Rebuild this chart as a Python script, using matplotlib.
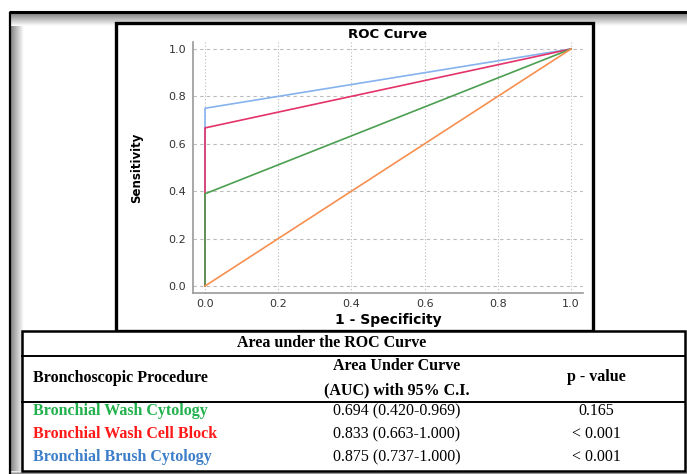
"""ROC 曲線と AUC 表の再現"""
import matplotlib
matplotlib.use("Agg")
import matplotlib.pyplot as plt
import numpy as np

# ROC 曲線データ (1 - 特異度, 感度)
wash_cyto_fpr = [0.0, 0.0, 1.0]
wash_cyto_tpr = [0.0, 0.389, 1.0]
cell_block_fpr = [0.0, 0.0, 1.0]
cell_block_tpr = [0.0, 0.667, 1.0]
brush_cyto_fpr = [0.0, 0.0, 1.0]
brush_cyto_tpr = [0.0, 0.75, 1.0]
ref_fpr = [0.0, 1.0]
ref_tpr = [0.0, 1.0]

ticks = [0.0, 0.2, 0.4, 0.6, 0.8, 1.0]

# AUC 表
procedures = ["Bronchial Wash Cytology", "Bronchial Wash Cell Block", "Bronchial Brush Cytology"]
auc_text = ["0.694 (0.420-0.969)", "0.833 (0.663-1.000)", "0.875 (0.737-1.000)"]
p_values = ["0.165", "< 0.001", "< 0.001"]
row_colors = ["#22b14c", "#ff1a1a", "#3d7ec8"]

W, H = 687, 474
fig = plt.figure(figsize=(W / 100, H / 100), dpi=100)

# 背景レイヤー (ピクセル座標)
ov = fig.add_axes([0, 0, 1, 1])

# 外枠の影
grad = np.linspace(0.5, 1.0, 32)
ov.imshow(np.tile(grad, (2, 1)), cmap="gray", vmin=0, vmax=1, aspect="auto",
          extent=(10, 24, 471, 13), interpolation="bilinear", zorder=0)
ov.imshow(np.tile(grad[:, None], (1, 2)), cmap="gray", vmin=0, vmax=1, aspect="auto",
          extent=(10, W, 26, 13), interpolation="bilinear", zorder=0)
ov.imshow(np.tile(grad[::-1][:, None], (1, 2)), cmap="gray", vmin=0, vmax=1, aspect="auto",
          extent=(10, W, H, 471), interpolation="bilinear", zorder=0)
ov.set_xlim(0, W)
ov.set_ylim(H, 0)
ov.axis("off")
ov.plot([9, W], [12, 12], color="black", lw=2.2, solid_capstyle="butt")
ov.plot([9.5, 9.5], [12, H], color="black", lw=1.6, solid_capstyle="butt")

# チャート枠
ov.add_patch(plt.Rectangle((116, 23), 477, 308, fc="white", ec="black", lw=2.4, zorder=3))

# 表
ov.add_patch(plt.Rectangle((22, 331), 663, 140, fc="white", ec="black", lw=1.8, zorder=3))
ov.plot([22, 685], [356, 356], color="black", lw=1.4, zorder=4)
ov.plot([22, 685], [402, 402], color="black", lw=1.4, zorder=4)

serif = ["Liberation Serif", "DejaVu Serif"]
fs = 11.5
ov.text(332, 343, "Area under the ROC Curve", ha="center", va="center",
        family=serif, weight="bold", fontsize=fs, zorder=5)
ov.text(33, 378, "Bronchoscopic Procedure", ha="left", va="center",
        family=serif, weight="bold", fontsize=fs, zorder=5)
ov.text(397, 366, "Area Under Curve", ha="center", va="center",
        family=serif, weight="bold", fontsize=fs, zorder=5)
ov.text(397, 390, "(AUC) with 95% C.I.", ha="center", va="center",
        family=serif, weight="bold", fontsize=fs, zorder=5)
ov.text(596, 377, "p - value", ha="center", va="center",
        family=serif, weight="bold", fontsize=fs, zorder=5)

row_y = [411, 434, 457]
for name, auc, p, c, y in zip(procedures, auc_text, p_values, row_colors, row_y):
    ov.text(33, y, name, ha="left", va="center", family=serif, weight="bold",
            fontsize=fs, color=c, zorder=5)
    ov.text(397, y, auc, ha="center", va="center", family=serif, fontsize=fs, zorder=5)
    ov.text(596, y, p, ha="center", va="center", family=serif, fontsize=fs, zorder=5)

# ROC プロット
ax = fig.add_axes([193 / W, (H - 293) / H, 390 / W, 251 / H])
ax.set_facecolor("none")
ax.plot(brush_cyto_fpr, brush_cyto_tpr, color="#86b2ee", lw=1.2)
ax.plot(cell_block_fpr, cell_block_tpr, color="#e4336a", lw=1.2)
ax.plot(wash_cyto_fpr, wash_cyto_tpr, color="#4c9f50", lw=1.2)
ax.plot(ref_fpr, ref_tpr, color="#f78f4f", lw=1.2)

ax.set_xlim(-0.0328, 1.0328)
ax.set_ylim(-0.0295, 1.0295)
ax.set_xticks(ticks)
ax.set_yticks(ticks)
ax.xaxis.set_major_formatter(matplotlib.ticker.FormatStrFormatter("%.1f"))
ax.yaxis.set_major_formatter(matplotlib.ticker.FormatStrFormatter("%.1f"))
ax.tick_params(length=0, labelsize=8, labelcolor="#333333", pad=5)
ax.tick_params(axis="x", pad=4)
ax.xaxis.grid(True, linestyle=(0, (1, 2)), color="#bbbbbb", lw=0.8)
ax.yaxis.grid(True, linestyle=(0, (3, 3)), color="#bbbbbb", lw=0.8)
ax.set_axisbelow(True)
for side in ["top", "right"]:
    ax.spines[side].set_visible(False)
for side in ["left", "bottom"]:
    ax.spines[side].set_color("#999999")
    ax.spines[side].set_linewidth(1.2)

ax.set_title("ROC Curve", fontsize=9.5, weight="bold", pad=3)
ax.set_xlabel("1 - Specificity", fontsize=10, weight="bold", labelpad=3)
ax.set_ylabel("Sensitivity", fontsize=8.5, weight="bold",
              family=["Liberation Sans Narrow", "DejaVu Sans Condensed", "DejaVu Sans"],
              labelpad=18)

fig.savefig("out.png", dpi=100)
plt.close(fig)
